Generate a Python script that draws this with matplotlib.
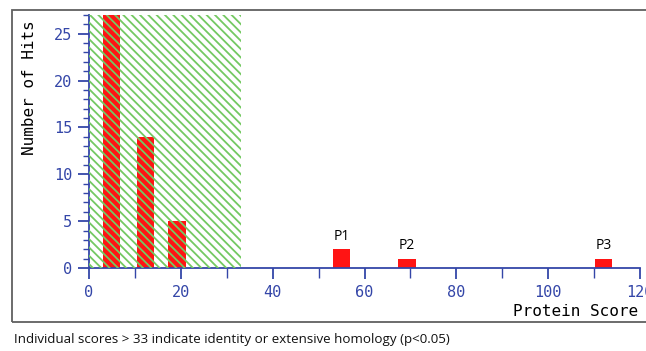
import matplotlib.pyplot as plt
from matplotlib.patches import Rectangle
from matplotlib.ticker import MultipleLocator

# protein score histogram (Mascot style)
bin_centers = [4.9, 12.3, 19.2, 55.0, 69.3, 112.1]
hit_counts = [27, 14, 5, 2, 1, 1]
peak_labels = {3: 'P1', 4: 'P2', 5: 'P3'}
threshold = 33
y_max = 27
x_ticks = [0, 20, 40, 60, 80, 100, 120]
caption = 'Individual scores > 33 indicate identity or extensive homology (p<0.05)'

blue = '#3446a8'
plt.rcParams['hatch.linewidth'] = 1.3

fig = plt.figure(figsize=(6.46, 3.51), dpi=100)
ax = fig.add_axes([89 / 646, 83 / 351, 551 / 646, 253 / 351])

ax.bar(bin_centers, hit_counts, width=3.8, color='#ff1414', zorder=2)
# shaded "random match" region, drawn over the bars
ax.add_patch(Rectangle((0, 0), threshold, y_max, facecolor='none',
                       edgecolor='#74c962', hatch='\\\\\\\\', linewidth=0, zorder=3))

for i, lab in peak_labels.items():
    ax.text(bin_centers[i], hit_counts[i] + 0.6, lab, ha='center', va='bottom',
            fontsize=10, family='Open Sans', color='black')

ax.set_xlim(0, 120)
ax.set_ylim(0, y_max)
ax.set_xticks(x_ticks)
ax.xaxis.set_minor_locator(MultipleLocator(10))
ax.yaxis.set_major_locator(MultipleLocator(5))
ax.yaxis.set_minor_locator(MultipleLocator(1))
for s in ['top', 'right']:
    ax.spines[s].set_visible(False)
for s in ['left', 'bottom']:
    ax.spines[s].set_color(blue)
    ax.spines[s].set_linewidth(1.3)
ax.tick_params(which='major', colors=blue, length=8, width=1.3, labelsize=11,
               pad=4)
ax.tick_params(which='minor', colors=blue, length=4, width=1.0)
ax.tick_params(axis='x', which='minor', length=7)
for t in ax.get_xticklabels() + ax.get_yticklabels():
    t.set_family('DejaVu Sans Mono')
ax.patch.set_alpha(0)

fig.text(30 / 646, 1 - 88 / 351, 'Number of Hits', rotation=90, ha='center',
         va='center', family='DejaVu Sans Mono', fontsize=11.5)
fig.text(638 / 646, 1 - 311 / 351, 'Protein Score', ha='right', va='center',
         family='DejaVu Sans Mono', fontsize=11.5)

# frame around the chart image
fig.patches.append(Rectangle((12 / 646, 29 / 351), 0.99, 312 / 351,
                             transform=fig.transFigure, fill=False,
                             edgecolor='#606060', linewidth=1.3))

fig.text(14 / 646, 1 - 339 / 351, caption, ha='left', va='center',
         family='Open Sans', fontsize=9.6, color='#111111')

plt.savefig('out.png', dpi=100)
